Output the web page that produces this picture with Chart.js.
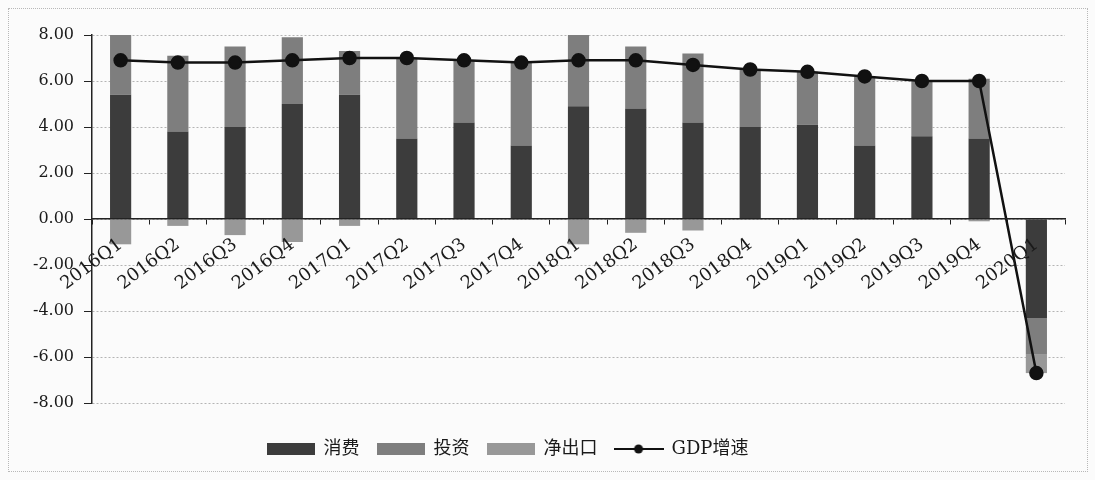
<!DOCTYPE html>
<html>
<head>
<meta charset="utf-8">
<script src="https://cdn.jsdelivr.net/npm/chart.js@4/dist/chart.umd.min.js"></script>
<style>
  html, body { margin: 0; padding: 0; background: #fbfbfb; }
  #wrap { position: relative; width: 1095px; height: 480px; }
  #frame { position: absolute; left: 8px; top: 8px; width: 1078px; height: 462px; border: 1px dotted #b8b8b8; pointer-events: none; }
</style>
</head>
<body>
<div id="wrap">
  <canvas id="gdpChart" width="1095" height="480"></canvas>
  <div id="frame"></div>
</div>
<script>
const quarters = ["2016Q1", "2016Q2", "2016Q3", "2016Q4", "2017Q1", "2017Q2", "2017Q3", "2017Q4",
  "2018Q1", "2018Q2", "2018Q3", "2018Q4", "2019Q1", "2019Q2", "2019Q3", "2019Q4", "2020Q1"];
const consumption = [5.4, 3.8, 4.0, 5.0, 5.4, 3.5, 4.2, 3.2, 4.9, 4.8, 4.2, 4.0, 4.1, 3.2, 3.6, 3.5, -4.3];
const investment = [2.6, 3.3, 3.5, 2.9, 1.9, 3.5, 2.7, 3.6, 3.1, 2.7, 3.0, 2.5, 2.3, 3.0, 2.4, 2.6, -1.6];
const netExports = [-1.1, -0.3, -0.7, -1.0, -0.3, 0, 0, 0, -1.1, -0.6, -0.5, 0, 0, 0, 0, -0.1, -0.8];
const gdpGrowth = [6.9, 6.8, 6.8, 6.9, 7.0, 7.0, 6.9, 6.8, 6.9, 6.9, 6.7, 6.5, 6.4, 6.2, 6.0, 6.0, -6.7];

const Y_MIN = -8;
const Y_MAX = 8;
const Y_STEP = 2;

const SERIF = "'DejaVu Serif', 'Liberation Serif', 'Noto Sans CJK SC', serif";
const COLORS = { consumption: "#3c3c3c", investment: "#7e7e7e", netExports: "#989898", gdp: "#111111" };

function boxIcon(color) {
  const c = document.createElement("canvas");
  c.width = 48;
  c.height = 12;
  const g = c.getContext("2d");
  g.fillStyle = color;
  g.fillRect(0, 0, 48, 12);
  return c;
}

function lineIcon(color) {
  const c = document.createElement("canvas");
  c.width = 50;
  c.height = 12;
  const g = c.getContext("2d");
  g.strokeStyle = color;
  g.lineWidth = 2;
  g.beginPath();
  g.moveTo(0, 6);
  g.lineTo(50, 6);
  g.stroke();
  g.fillStyle = color;
  g.beginPath();
  g.arc(25, 6, 4.5, 0, Math.PI * 2);
  g.fill();
  return c;
}

const legendIcons = [
  boxIcon(COLORS.consumption),
  boxIcon(COLORS.investment),
  boxIcon(COLORS.netExports),
  lineIcon(COLORS.gdp),
];

function barSet(label, data, color) {
  return {
    type: "bar",
    label,
    data,
    backgroundColor: color,
    borderWidth: 0,
    stack: "contrib",
    order: 2,
    categoryPercentage: 1,
    barPercentage: 0.37,
  };
}

// legend in the original sits a little left of the canvas centre
const legendNudge = {
  id: "legendNudge",
  afterLayout(chart) {
    if (!chart.legend) return;
    chart.legend.left -= 25;
    chart.legend.right -= 25;
  },
};

new Chart(document.getElementById("gdpChart").getContext("2d"), {
  plugins: [legendNudge],
  data: {
    labels: quarters,
    datasets: [
      barSet("消费", consumption, COLORS.consumption),
      barSet("投资", investment, COLORS.investment),
      barSet("净出口", netExports, COLORS.netExports),
      {
        type: "line",
        label: "GDP增速",
        data: gdpGrowth,
        borderColor: COLORS.gdp,
        backgroundColor: COLORS.gdp,
        borderWidth: 2.5,
        pointRadius: 6,
        pointHoverRadius: 6,
        tension: 0,
        stack: "gdp",
        order: 1,
      },
    ],
  },
  options: {
    responsive: false,
    animation: false,
    layout: { padding: { left: 0, right: 30, top: 35, bottom: 12 } },
    scales: {
      x: {
        position: { y: 0 },
        stacked: true,
        offset: true,
        grid: { drawOnChartArea: false, drawTicks: true, tickLength: 5, tickColor: "#222", offset: true },
        border: { color: "#222", width: 1.5, z: 1 },
        ticks: {
          z: 1,
          color: "#1a1a1a",
          font: { family: SERIF, size: 18 },
          minRotation: 37,
          maxRotation: 37,
          padding: 10,
          autoSkip: false,
        },
      },
      // empty band between the plot and the legend
      spacer: {
        type: "category",
        axis: "x",
        position: "bottom",
        grid: { display: false },
        border: { display: false },
        ticks: { display: false },
        afterFit: (scale) => { scale.height = 20; },
      },
      y: {
        stacked: true,
        min: Y_MIN,
        max: Y_MAX,
        afterFit: (scale) => { scale.width = 92; },
        grid: { color: "#b4b4b4", lineWidth: 1, tickLength: 8, tickColor: "#222" },
        border: { color: "#222", width: 1.5, dash: [2, 2] },
        ticks: {
          stepSize: Y_STEP,
          color: "#1a1a1a",
          padding: 10,
          font: { family: SERIF, size: 16 },
          callback: (v) => Number(v).toFixed(2),
        },
      },
    },
    plugins: {
      tooltip: { enabled: false },
      legend: {
        position: "bottom",
        labels: {
          usePointStyle: true,
          pointStyleWidth: 48,
          padding: 17,
          color: "#1a1a1a",
          font: { family: SERIF, size: 18 },
          sort: (a, b) => a.datasetIndex - b.datasetIndex,
          generateLabels(chart) {
            const items = Chart.defaults.plugins.legend.labels.generateLabels(chart);
            items.forEach((item) => { item.pointStyle = legendIcons[item.datasetIndex]; });
            return items;
          },
        },
      },
    },
  },
});
</script>
</body>
</html>
